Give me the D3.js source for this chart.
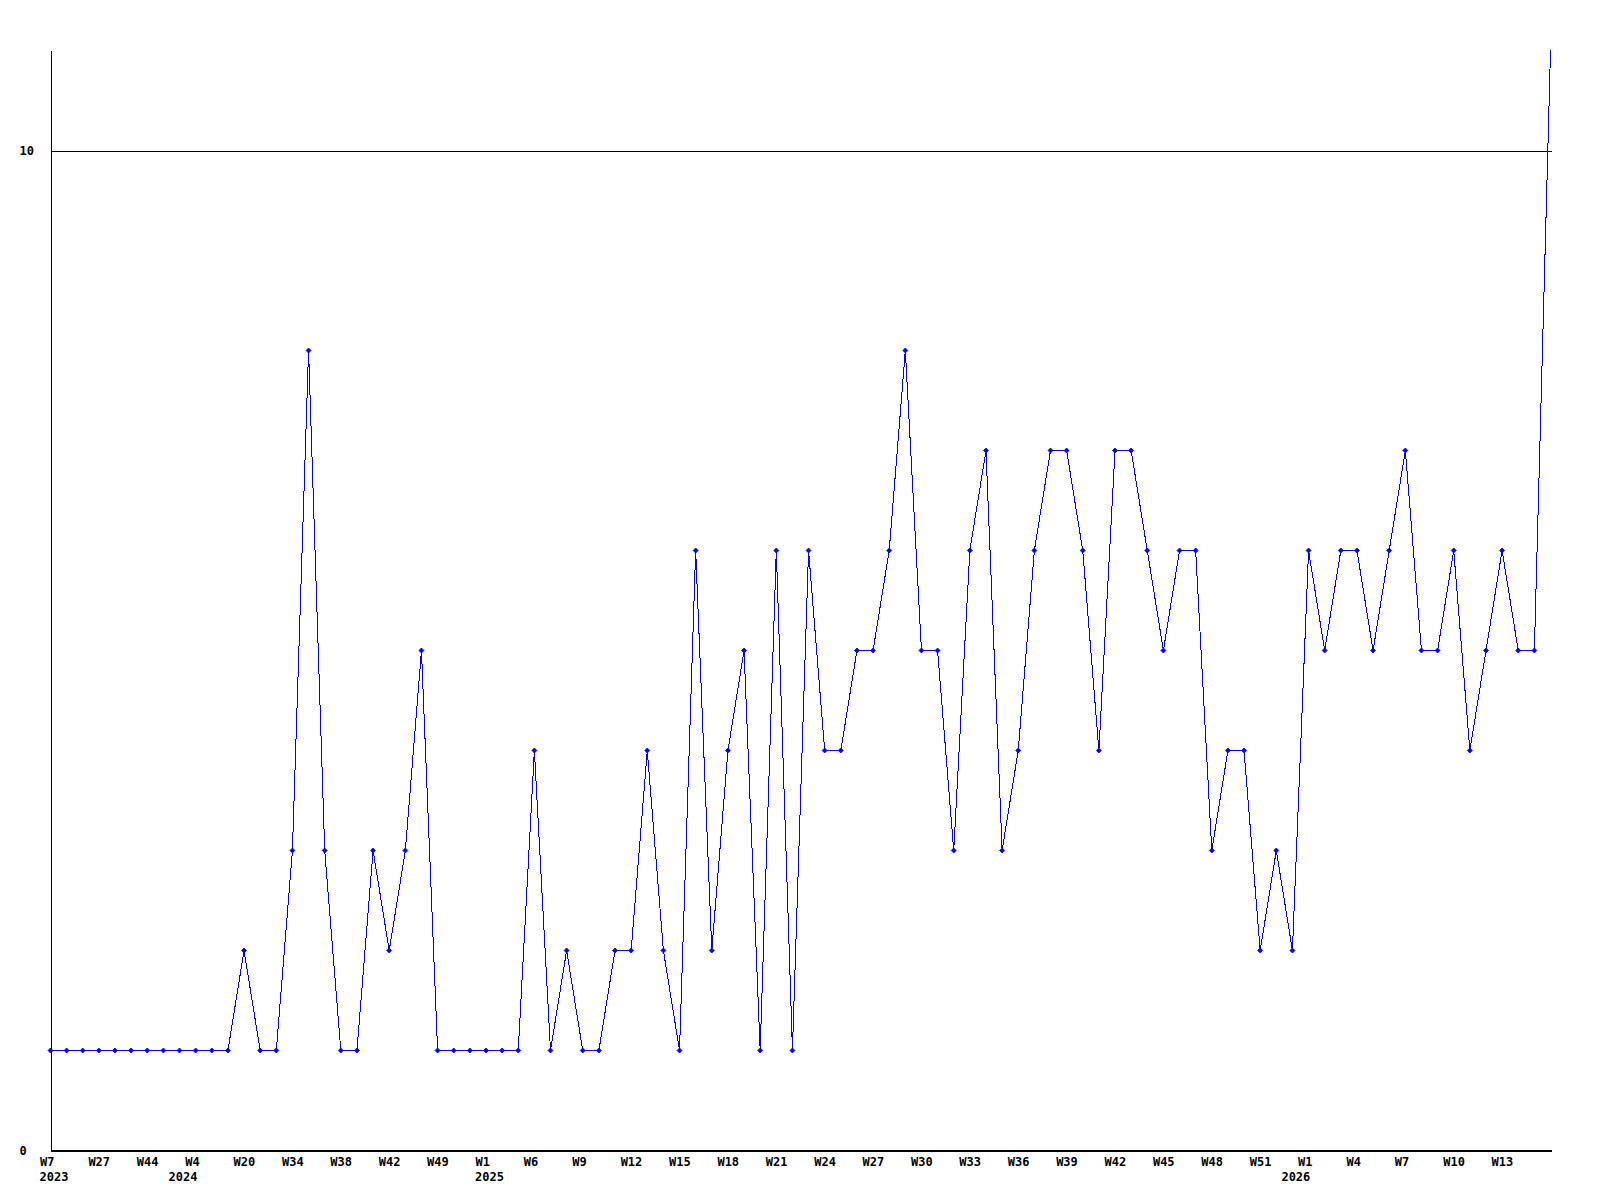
<!DOCTYPE html>
<html>
<head>
<meta charset="utf-8">
<script src="https://cdn.jsdelivr.net/npm/d3@7"></script>
<style>
  html, body { margin: 0; padding: 0; background: #fff; }
  svg { display: block; }
  text { font-family: "DejaVu Sans Mono", "Liberation Mono", monospace; font-weight: bold; font-size: 12px; fill: #000; }
</style>
</head>
<body>
<svg id="chart" width="1600" height="1200"></svg>
<script>
// ---- data ----
const values = [
  1,1,1,1,1,1,1,1,1,1,1,1,
  2,1,1,3,8,3,1,1,3,2,3,5,
  1,1,1,1,1,1,
  4,1,2,1,1,2,2,4,2,1,6,2,4,5,1,6,1,6,4,4,5,5,6,8,5,5,3,6,7,3,4,6,7,7,6,4,7,7,6,5,6,6,3,4,4,2,3,2,
  6,5,6,6,5,6,7,5,5,6,4,5,6,5,5,11
];
const weekLabels = ["W7","W27","W44","W4","W20","W34","W38","W42","W49","W1","W6","W9","W12","W15","W18","W21","W24","W27","W30","W33","W36","W39","W42","W45","W48","W51","W1","W4","W7","W10","W13"];
const labelStep = 3;
const yearLabels = ["2023","2024","2025","2026"];
const yearIndex = [0, 8, 27, 77];
const yTicks = [0, 10];
const yMax = 11;

// ---- layout ----
const plotLeft = 50, plotRight = 1550, plotTop = 50, plotBottom = 1150;
const svg = d3.select("#chart");
const g = svg.append("g").attr("transform", "translate(0.5,0.5)");

const x = d3.scalePoint().domain(d3.range(values.length)).range([plotLeft, plotRight]);
const y = d3.scaleLinear().domain([0, yMax]).range([plotBottom, plotTop]);

// y axis with gridline
const yAxis = d3.axisLeft(y).tickValues(yTicks).tickSizeInner(-(plotRight - plotLeft + 1)).tickSizeOuter(0).tickFormat(d3.format("d"));
const yg = g.append("g").attr("transform", `translate(${plotLeft},0)`).call(yAxis);
yg.select(".domain").attr("stroke", "#000").attr("shape-rendering", "crispEdges");
yg.selectAll(".tick line").attr("stroke", "#000").attr("shape-rendering", "crispEdges");
yg.selectAll(".tick text")
  .attr("x", 19 - plotLeft).attr("dy", "0.35em")
  .attr("text-anchor", "start")
  .style("font-family", "DejaVu Sans Mono").style("font-weight", "bold").style("font-size", "12px");

// x axis
const tickIdx = d3.range(0, values.length, labelStep).slice(0, weekLabels.length);
const xAxis = d3.axisBottom(x).tickValues(tickIdx).tickSize(0)
  .tickFormat((d, i) => weekLabels[i]);
const xg = g.append("g").attr("transform", `translate(0,${plotBottom})`).call(xAxis);
xg.select(".domain").attr("stroke", "#000").attr("shape-rendering", "crispEdges")
  .attr("d", `M${plotLeft},0H${plotRight + 1}`);
xg.selectAll(".tick text")
  .attr("x", -11).attr("y", 15).attr("dy", 0)
  .attr("text-anchor", "start")
  .style("font-family", "DejaVu Sans Mono").style("font-weight", "bold").style("font-size", "12px");

// year labels
g.append("g").selectAll("text").data(yearIndex).join("text")
  .attr("x", (d) => x(d) - 11)
  .attr("y", plotBottom + 30)
  .attr("text-anchor", "start")
  .text((d, i) => yearLabels[i]);

// line
const line = d3.line().x((d, i) => x(i)).y((d) => y(d));
g.append("path").datum(values)
  .attr("d", line)
  .attr("fill", "none")
  .attr("stroke", "#0000ff")
  .attr("stroke-width", 1)
  .attr("shape-rendering", "crispEdges");

// markers
const diamond = "M0,-2.5L2.5,0L0,2.5L-2.5,0Z";
g.append("g").selectAll("path").data(values.map((v, i) => ({v, i})).filter(p => p.v < yMax)).join("path")
  .attr("transform", (p) => `translate(${x(p.i)},${y(p.v)})`)
  .attr("d", diamond)
  .attr("fill", "#0000ff")
  .attr("stroke", "#0000ff")
  .attr("stroke-width", 0.8);
</script>
</body>
</html>
